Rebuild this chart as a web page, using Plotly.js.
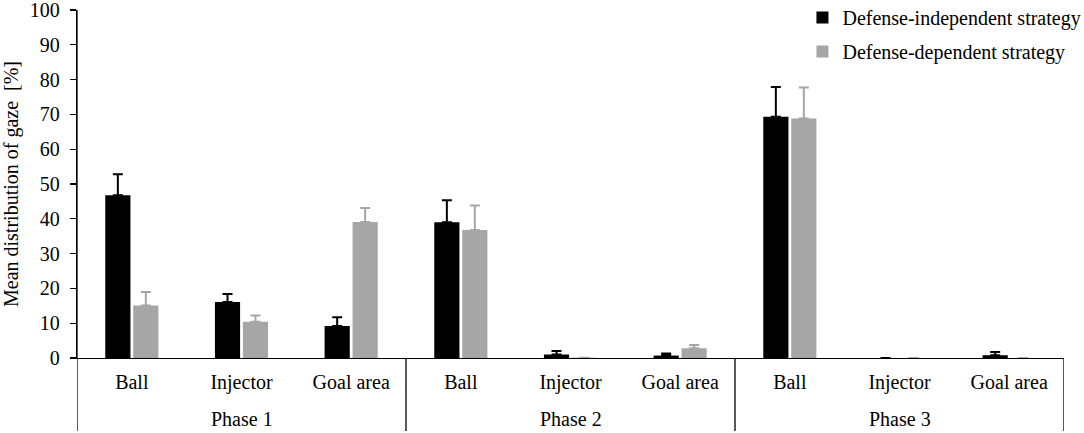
<!DOCTYPE html>
<html>
<head>
<meta charset="utf-8">
<script src="https://cdn.plot.ly/plotly-3.0.1.min.js"></script>
<style>
  html, body { margin: 0; padding: 0; background: #fff; }
  #chart { width: 1084px; height: 433px; }
</style>
</head>
<body>
<div id="chart"></div>
<script>
  var phases = ["Phase 1", "Phase 2", "Phase 3"];
  var targets = ["Ball", "Injector", "Goal area"];

  // mean values and upper end of the error bar, one entry per phase/target
  var independentMean = [46.8, 16.1, 9.2, 39.0, 1.0, 0.7, 69.3, 0, 0.8];
  var independentTop = [52.8, 18.4, 11.7, 45.3, 2.0, 1.3, 77.9, 0, 1.7];
  var dependentMean = [15.1, 10.4, 39.1, 36.8, 0.1, 2.8, 68.8, 0, 0];
  var dependentTop = [19.0, 12.2, 43.1, 43.8, 0.1, 3.7, 77.7, 0, 0];

  var xs = [];
  var tickText = [];
  for (var p = 0; p < phases.length; p++) {
    for (var t = 0; t < targets.length; t++) {
      xs.push(p * targets.length + t);
      tickText.push(targets[t]);
    }
  }

  function plusErr(mean, top) {
    var out = [];
    for (var i = 0; i < mean.length; i++) {
      out.push(Math.max(top[i] - mean[i], 0));
    }
    return out;
  }

  var zeros = xs.map(function () { return 0; });
  var serif = "Liberation Serif, Times New Roman, serif";

  var traces = [{
    type: "bar",
    name: "Defense-independent strategy",
    legendgroup: "a",
    x: xs,
    y: independentMean,
    marker: { color: "#000000" },
    error_y: {
      type: "data",
      symmetric: false,
      array: plusErr(independentMean, independentTop),
      arrayminus: zeros,
      color: "#000000",
      thickness: 2,
      width: 5
    }
  }, {
    type: "bar",
    name: "Defense-dependent strategy",
    legendgroup: "b",
    x: xs,
    y: dependentMean,
    marker: { color: "#a6a6a6" },
    error_y: {
      type: "data",
      symmetric: false,
      array: plusErr(dependentMean, dependentTop),
      arrayminus: zeros,
      color: "#a6a6a6",
      thickness: 2,
      width: 5
    }
  }];

  var n = xs.length;
  var shapes = [];
  var bottom = -0.21;
  // left axis runs down through the label area
  shapes.push({
    type: "line", xref: "x", yref: "paper",
    x0: -0.5, x1: -0.5, y0: bottom, y1: 1,
    line: { color: "#000", width: 1.3 }
  });
  for (var k = 1; k <= phases.length; k++) {
    var xb = k * targets.length - 0.5;
    shapes.push({
      type: "line", xref: "x", yref: "paper",
      x0: xb, x1: xb, y0: bottom, y1: 0,
      line: { color: "#000", width: 1.3 }
    });
  }

  var annotations = phases.map(function (ph, i) {
    return {
      text: ph,
      xref: "x", yref: "paper",
      x: i * targets.length + 1,
      y: -0.174,
      yanchor: "middle",
      showarrow: false,
      font: { family: serif, size: 20, color: "#000" }
    };
  });

  var layout = {
    width: 1084,
    height: 433,
    margin: { l: 77, r: 20, t: 10, b: 75, autoexpand: false },
    paper_bgcolor: "#fff",
    plot_bgcolor: "#fff",
    barmode: "group",
    bargap: 0.49,
    bargroupgap: 0.1,
    font: { family: serif, size: 20, color: "#000" },
    showlegend: true,
    legend: {
      x: 0.735, xanchor: "left",
      y: 1.0345, yanchor: "top",
      bgcolor: "rgba(0,0,0,0)",
      traceorder: "grouped",
      tracegroupgap: 5,
      font: { family: serif, size: 20, color: "#000" }
    },
    xaxis: {
      range: [-0.5, n - 0.5],
      tickvals: xs,
      ticktext: tickText,
      ticks: "",
      showline: true,
      linecolor: "#000",
      linewidth: 1.3,
      showgrid: false,
      zeroline: false,
      ticklabelstandoff: 6,
      tickfont: { family: serif, size: 20, color: "#000" }
    },
    yaxis: {
      range: [0, 100],
      dtick: 10,
      ticks: "outside",
      ticklen: 6,
      tickcolor: "#000",
      tickwidth: 1.3,
      showline: true,
      linecolor: "#000",
      linewidth: 1.3,
      showgrid: false,
      zeroline: false,
      ticklabelstandoff: 6,
      ticklabeloverflow: "allow",
      tickfont: { family: serif, size: 20, color: "#000" },
      title: {
        text: "Mean distribution of gaze  [%]",
        standoff: 8,
        font: { family: serif, size: 20, color: "#000" }
      }
    },
    shapes: shapes,
    annotations: annotations
  };

  Plotly.newPlot("chart", traces, layout, { displayModeBar: false, staticPlot: true });
</script>
</body>
</html>
